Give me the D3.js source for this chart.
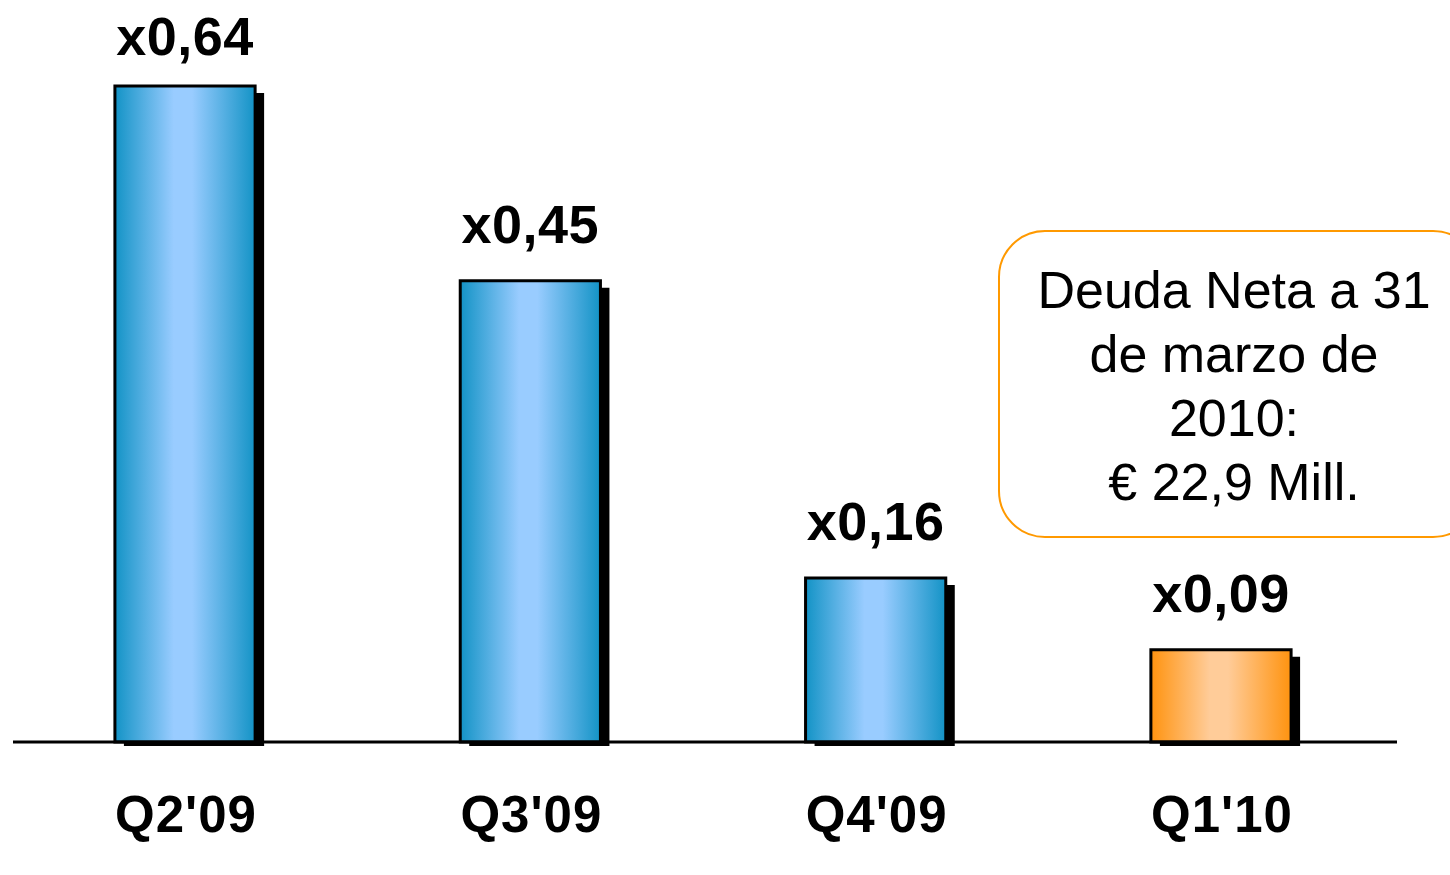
<!DOCTYPE html>
<html><head><meta charset="utf-8">
<script src="https://cdn.jsdelivr.net/npm/d3@7"></script>
<style>body{margin:0;background:#fff;}svg{display:block;}</style>
</head><body>
<svg id="c" width="1450" height="875"></svg>
<script>
const categories = ["Q2'09", "Q3'09", "Q4'09", "Q1'10"];
const values = [0.64, 0.45, 0.16, 0.09];
const valueLabels = ["x0,64", "x0,45", "x0,16", "x0,09"];
const highlight = [false, false, false, true];
const noteLines = ["Deuda Neta a 31", "de marzo de", "2010:", "\u20AC 22,9 Mill."];

const svg = d3.select("#c");
const baseY = 742;
const x = d3.scaleBand().domain(categories).range([12.35, 1393.65]).paddingInner(0.594).paddingOuter(0.297);
const y = d3.scaleLinear().domain([0, 0.64]).range([baseY, 86]);

const defs = svg.append("defs");
function grad(id, edge, mid) {
  const g = defs.append("linearGradient").attr("id", id).attr("x1", "0%").attr("x2", "100%").attr("y1", "0%").attr("y2", "0%");
  g.append("stop").attr("offset", "0%").attr("stop-color", edge);
  g.append("stop").attr("offset", "42%").attr("stop-color", mid);
  g.append("stop").attr("offset", "55%").attr("stop-color", mid);
  g.append("stop").attr("offset", "100%").attr("stop-color", edge);
}
grad("gBlue", "#1393c6", "#99ccff");
grad("gOrange", "#ff930f", "#ffcc99");

const g = svg.append("g");
const data = categories.map((c, i) => ({c, v: values[i], lab: valueLabels[i], hi: highlight[i]}));

// shadows
g.selectAll("rect.sh").data(data).join("rect").attr("class", "sh")
  .attr("x", d => x(d.c) + 9).attr("y", d => y(d.v) + 7)
  .attr("width", x.bandwidth()).attr("height", d => baseY + 4 - (y(d.v) + 7))
  .attr("fill", "#000");

// axis line
svg.append("line").attr("x1", 13).attr("x2", 1397).attr("y1", baseY).attr("y2", baseY)
  .attr("stroke", "#000").attr("stroke-width", 3);

// bars
g.selectAll("rect.bar").data(data).join("rect").attr("class", "bar")
  .attr("x", d => x(d.c)).attr("y", d => y(d.v))
  .attr("width", x.bandwidth()).attr("height", d => baseY - y(d.v))
  .attr("fill", d => d.hi ? "url(#gOrange)" : "url(#gBlue)")
  .attr("stroke", "#000").attr("stroke-width", 3);

// value labels
g.selectAll("text.val").data(data).join("text").attr("class", "val")
  .attr("x", d => x(d.c) + x.bandwidth() / 2)
  .attr("y", d => Math.max(y(d.v) - 38, 55))
  .attr("text-anchor", "middle")
  .attr("font-family", "Liberation Sans, Arial, sans-serif")
  .attr("font-weight", "bold").attr("font-size", 54).attr("fill", "#000")
  .attr("letter-spacing", 0.5)
  .text(d => d.lab);

// category labels
g.selectAll("text.cat").data(data).join("text").attr("class", "cat")
  .attr("x", d => x(d.c) + x.bandwidth() / 2 + 1)
  .attr("y", 832)
  .attr("text-anchor", "middle")
  .attr("font-family", "Liberation Sans, Arial, sans-serif")
  .attr("font-weight", "bold").attr("font-size", 51).attr("fill", "#000")
  .attr("letter-spacing", 1)
  .text(d => d.c);

// callout
svg.append("rect").attr("x", 999).attr("y", 231).attr("width", 480).attr("height", 306)
  .attr("rx", 46).attr("ry", 46)
  .attr("fill", "#fff").attr("stroke", "#ff9900").attr("stroke-width", 2);
svg.append("g").selectAll("text").data(noteLines).join("text")
  .attr("x", 1234).attr("y", (d, i) => 308 + i * 64)
  .attr("text-anchor", "middle")
  .attr("font-family", "Liberation Sans, Arial, sans-serif")
  .attr("font-size", 52).attr("fill", "#000")
  .text(d => d);
</script>
</body></html>
